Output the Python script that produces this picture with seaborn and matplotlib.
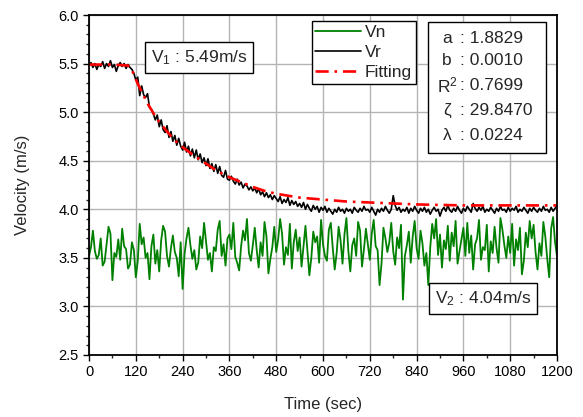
import numpy as np
import matplotlib
matplotlib.use("Agg")
import matplotlib.pyplot as plt
import seaborn as sns
from matplotlib.patches import Rectangle
from matplotlib.ticker import MultipleLocator

# sampled every 5 s from 0 to 1200 s (12 values per row = one minute)
time_s = np.arange(0, 1201, 5)

vr = [5.48, 5.51, 5.46, 5.50, 5.44, 5.49, 5.47, 5.52, 5.45, 5.50, 5.47, 5.53,
      5.46, 5.49, 5.42, 5.48, 5.51, 5.47, 5.50, 5.45, 5.49, 5.46, 5.44, 5.40,
      5.33, 5.36, 5.17, 5.27, 5.18, 5.15, 5.19, 5.05, 5.03, 4.98, 4.92, 4.97,
      4.85, 4.92, 4.82, 4.79, 4.86, 4.74, 4.80, 4.70, 4.76, 4.66, 4.73, 4.65,
      4.61, 4.69, 4.59, 4.65, 4.55, 4.62, 4.53, 4.61, 4.51, 4.57, 4.48, 4.53,
      4.45, 4.52, 4.42, 4.47, 4.39, 4.46, 4.37, 4.44, 4.35, 4.33, 4.40, 4.31,
      4.30, 4.34, 4.29, 4.26, 4.31, 4.25, 4.28, 4.22, 4.26, 4.24, 4.20, 4.23,
      4.19, 4.22, 4.17, 4.21, 4.15, 4.18, 4.13, 4.17, 4.12, 4.15, 4.10, 4.14,
      4.11, 4.08, 4.13, 4.06, 4.10, 4.07, 4.12, 4.04, 4.09, 4.05, 4.08, 4.03,
      4.06, 4.02, 4.07, 4.00, 4.05, 4.01, 3.98, 4.04, 4.00, 4.03, 3.97, 4.02,
      3.99, 4.03, 3.97, 4.01, 3.98, 3.95, 4.00, 3.97, 4.02, 3.98, 4.00, 3.96,
      4.01, 3.98, 4.00, 3.96, 4.02, 3.99, 3.97, 4.01, 3.98, 4.03, 3.99, 4.00,
      3.97, 4.02, 3.98, 3.94, 4.00, 3.97, 4.01, 3.98, 4.03, 3.99, 3.96, 4.00,
      4.14, 4.04, 3.99, 4.02, 3.97, 4.00, 3.98, 4.02, 3.96, 4.01, 3.98, 4.03,
      3.99, 3.96, 4.01, 3.98, 4.02, 3.97, 4.00, 3.95, 3.99, 4.02, 3.98, 4.00,
      3.93, 3.99, 4.02, 3.98, 4.04, 3.99, 3.97, 4.01, 3.98, 4.03, 3.99, 3.96,
      4.01, 3.98, 4.03, 4.00, 3.97, 4.06, 4.01, 3.98, 4.02, 3.99, 4.03, 3.97,
      4.00, 3.98, 4.02, 3.99, 3.96, 4.01, 3.98, 4.03, 3.99, 4.00, 3.97, 4.02,
      3.98, 4.01, 3.99, 4.03, 3.97, 4.00, 3.98, 4.02, 3.99, 3.96, 4.01, 3.98,
      4.02, 3.99, 3.97, 4.01, 3.98, 4.03, 3.99, 4.00, 3.97, 4.02, 3.98, 4.01,
      4.04]

vn = [3.52, 3.61, 3.78, 3.57, 3.49, 3.53, 3.70, 3.42, 3.46, 3.64, 3.82, 3.75,
      3.27, 3.55, 3.51, 3.69, 3.48, 3.80, 3.62, 3.59, 3.39, 3.43, 3.66, 3.58,
      3.30, 3.47, 3.85, 3.64, 3.71, 3.50, 3.55, 3.28, 3.62, 3.74, 3.44, 3.58,
      3.36, 3.68, 3.83, 3.77, 3.52, 3.41, 3.60, 3.73, 3.56, 3.50, 3.31, 3.66,
      3.18, 3.54, 3.70, 3.81, 3.63, 3.49, 3.58, 3.38, 3.45, 3.72, 3.60, 3.86,
      3.67, 3.48, 3.55, 3.36, 3.61, 3.57, 3.79, 3.88, 3.52, 3.64, 3.42, 3.70,
      3.74, 3.59, 3.86, 3.51, 3.45, 3.37, 3.62, 3.78, 3.68, 3.90, 3.55, 3.47,
      3.63, 3.81, 3.58, 3.40, 3.66, 3.52, 3.87, 3.72, 3.34, 3.49, 3.61, 3.82,
      3.56, 3.69, 3.90, 3.75, 3.43, 3.61, 3.53, 3.85, 3.39, 3.66, 3.79, 3.57,
      3.71, 3.41, 3.62, 3.83, 3.58, 3.32, 3.50, 3.77, 3.66, 3.72, 3.45, 3.89,
      3.64, 3.52, 3.47, 3.79, 3.86, 3.60, 3.38, 3.55, 3.82, 3.68, 3.44, 3.74,
      3.91, 3.57, 3.36, 3.63, 3.70, 3.52, 3.87, 3.78, 3.41, 3.59, 3.80, 3.64,
      3.48, 3.75, 3.89, 3.62, 3.58, 3.22, 3.44, 3.81, 3.70, 3.56, 3.66, 3.86,
      3.57, 3.43, 3.71, 3.60, 3.84, 3.07, 3.52, 3.63, 3.77, 3.45, 3.72, 3.88,
      3.60, 3.49, 3.78, 3.65, 3.42, 3.55, 3.22, 3.61, 3.85, 3.70, 3.90, 3.53,
      3.74, 3.40, 3.68, 3.59, 3.83, 3.47, 3.76, 3.62, 3.88, 3.44, 3.57, 3.69,
      3.81, 3.52, 3.86, 3.55, 3.73, 3.38, 3.64, 3.70, 3.89, 3.48, 3.61, 3.58,
      3.84, 3.36, 3.67, 3.55, 3.82, 3.60, 3.45, 3.91, 3.79, 3.63, 3.50, 3.72,
      3.55, 3.85, 3.42, 3.69, 3.58, 3.81, 3.33, 3.47, 3.76, 3.61, 3.88, 3.70,
      3.84, 3.56, 3.38, 3.65, 3.52, 3.87, 3.72, 3.49, 3.30, 3.80, 3.92, 3.66,
      3.52]

# fitted curve
fit_t = [0, 60, 100, 108, 116, 124, 135, 150, 165, 180, 200, 220, 240, 270, 300,
         330, 360, 390, 420, 450, 480, 540, 600, 660, 720, 780, 840, 960, 1080, 1200]
fit_v = [5.49, 5.49, 5.48, 5.45, 5.38, 5.30, 5.21, 5.09, 4.99, 4.90, 4.80, 4.71, 4.64, 4.55, 4.47,
         4.39, 4.33, 4.28, 4.23, 4.19, 4.16, 4.12, 4.10, 4.08, 4.07, 4.06, 4.05, 4.04, 4.04, 4.04]

param_names = ["a", "b", "R$^2$", "\u03b6", "\u03bb"]
param_values = ["1.8829", "0.0010", "0.7699", "29.8470", "0.0224"]

sns.set_style("ticks")
plt.rcParams["font.family"] = ["Liberation Sans", "DejaVu Sans"]
plt.rcParams["mathtext.fontset"] = "custom"
plt.rcParams["mathtext.rm"] = "Liberation Sans"
plt.rcParams["mathtext.default"] = "regular"

fig = plt.figure(figsize=(5.83, 4.17), dpi=100)
ax = fig.add_axes([0.1527, 0.1487, 0.8027, 0.8153])

sns.lineplot(x=time_s, y=vn, color="#008000", lw=1.3, label="Vn", ax=ax, estimator=None)
sns.lineplot(x=time_s, y=vr, color="black", lw=1.2, label="Vr", ax=ax, estimator=None)
sns.lineplot(x=fit_t, y=fit_v, color="#ff0000", lw=1.9, label="Fitting", ax=ax, estimator=None)
ax.lines[-1].set_dashes([5, 2.2, 1, 2.2])

ax.set_xlim(0, 1200)
ax.set_ylim(2.5, 6.0)
ax.xaxis.set_major_locator(MultipleLocator(120))
ax.xaxis.set_minor_locator(MultipleLocator(60))
ax.yaxis.set_major_locator(MultipleLocator(0.5))
ax.yaxis.set_minor_locator(MultipleLocator(0.1))
ax.grid(True, which="major", color="#b4b4b4", lw=1.0)
ax.set_axisbelow(True)
ax.tick_params(which="major", direction="out", length=4, width=1, labelsize=10.5, colors="black")
ax.tick_params(which="minor", direction="out", length=2.5, width=1)
for sp in ax.spines.values():
    sp.set_visible(True)
    sp.set_color("black")
    sp.set_linewidth(1.3)

ax.set_xlabel("Time (sec)", fontsize=12, labelpad=13)
ax.set_ylabel("Velocity (m/s)", fontsize=12, labelpad=20)

leg = ax.legend(loc="upper left", bbox_to_anchor=(0.4765, 0.982), borderaxespad=0,
                fontsize=12.5, frameon=True, fancybox=False, framealpha=1,
                edgecolor="black", handlelength=2.6, handletextpad=0.25,
                labelspacing=0.3, borderpad=0.2)
leg.get_frame().set_linewidth(1.0)

box = dict(boxstyle="square,pad=0.35", fc="white", ec="black", lw=1.0)
ax.text(0.235, 0.875, "V$_1$ : 5.49m/s", transform=ax.transAxes, ha="center", va="center",
        fontsize=12.5, bbox=box, zorder=5)
ax.text(0.842, 0.166, "V$_2$ : 4.04m/s", transform=ax.transAxes, ha="center", va="center",
        fontsize=12.5, bbox=box, zorder=5)

ax.add_patch(Rectangle((0.724, 0.594), 0.252, 0.385, transform=ax.transAxes,
                       fc="white", ec="black", lw=1.0, zorder=5))
line_y = [38, 60, 85, 110, 135]
for name, val, py in zip(param_names, param_values, line_y):
    yy = (355 - py) / 340
    ax.text(0.765, yy, name, transform=ax.transAxes, ha="center", va="center",
            fontsize=12.5, zorder=6)
    ax.text(0.792, yy, ": " + val, transform=ax.transAxes, ha="left", va="center",
            fontsize=12.5, zorder=6)

fig.savefig("out.png", dpi=100)
